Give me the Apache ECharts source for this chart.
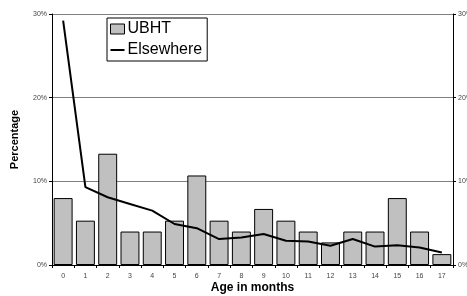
<!DOCTYPE html>
<html>
<head>
<meta charset="utf-8">
<script src="https://cdn.jsdelivr.net/npm/echarts@6/dist/echarts.min.js"></script>
<style>
  html, body { margin: 0; padding: 0; background: #fff; }
  #chart { width: 467px; height: 296px; }
</style>
</head>
<body>
<div id="chart"></div>
<script>
// Age in months (x categories)
const months = ['0', '1', '2', '3', '4', '5', '6', '7', '8', '9', '10', '11', '12', '13', '14', '15', '16', '17'];
// UBHT bars (%)
const ubht = [8.0, 5.3, 13.3, 4.0, 4.0, 5.3, 10.7, 5.3, 4.0, 6.7, 5.3, 4.0, 2.7, 4.0, 4.0, 8.0, 4.0, 1.3];
// Elsewhere line (%)
const elsewhere = [29.2, 9.3, 8.1, 7.3, 6.5, 4.9, 4.4, 3.1, 3.3, 3.7, 2.9, 2.8, 2.3, 3.1, 2.2, 2.35, 2.1, 1.5];

const font = 'Liberation Sans, Arial, sans-serif';

const chart = echarts.init(document.getElementById('chart'));

const yCommon = {
  type: 'value',
  min: 0,
  max: 30,
  interval: 10,
  axisLine: { show: true, lineStyle: { color: '#000', width: 1 } },
  axisTick: { show: true, length: 3, lineStyle: { color: '#000' } },
  axisLabel: { fontFamily: font, fontSize: 7, color: '#444', margin: 5, formatter: '{value}%' },
};

// short horizontal line as legend icon; corner dots keep the box 14x10
const lineIcon = 'path://M0,4 L14,4 L14,6 L0,6 Z M0,0 L0.01,0 L0,0.01 Z M14,10 L13.99,10 L14,9.99 Z';

chart.setOption({
  animation: false,
  grid: { left: 52, right: 14, top: 14, bottom: 31, containLabel: false, outerBoundsMode: 'none' },
  legend: {
    orient: 'vertical',
    left: 107,
    top: 18,
    padding: [3, 5, 3, 3],
    itemGap: 5,
    itemWidth: 14,
    itemHeight: 10,
    borderColor: '#000',
    borderWidth: 1,
    textStyle: { fontFamily: font, fontSize: 16, color: '#000', padding: [0, 0, 0, -2] },
    data: [
      { name: 'UBHT', icon: 'rect', itemStyle: { color: '#c0c0c0', borderColor: '#000', borderWidth: 1 } },
      { name: 'Elsewhere', icon: lineIcon, itemStyle: { color: '#000', borderWidth: 0 } },
    ],
  },
  xAxis: {
    type: 'category',
    data: months,
    name: 'Age in months',
    nameLocation: 'middle',
    nameGap: 17,
    nameMoveOverlap: false,
    nameTextStyle: { fontFamily: font, fontSize: 12, fontWeight: 'bold', color: '#000' },
    axisLine: { lineStyle: { color: '#000', width: 1 } },
    axisTick: { show: true, length: 3, alignWithLabel: false, lineStyle: { color: '#000' } },
    axisLabel: { fontFamily: font, fontSize: 7, color: '#444', margin: 8 },
  },
  yAxis: [
    Object.assign({}, yCommon, {
      position: 'left',
      name: 'Percentage',
      nameLocation: 'middle',
      nameGap: 32,
      nameMoveOverlap: false,
      nameTextStyle: { fontFamily: font, fontSize: 11, fontWeight: 'bold', color: '#000' },
      splitLine: { show: true, lineStyle: { color: '#7f7f7f', width: 1 } },
    }),
    Object.assign({}, yCommon, {
      position: 'right',
      splitLine: { show: false },
    }),
  ],
  series: [
    {
      name: 'UBHT',
      type: 'bar',
      data: ubht,
      barCategoryGap: '15%',
      itemStyle: { color: '#c0c0c0', borderColor: '#000', borderWidth: 1 },
    },
    {
      name: 'Elsewhere',
      type: 'line',
      data: elsewhere,
      showSymbol: false,
      symbol: 'none',
      lineStyle: { color: '#000', width: 2 },
      itemStyle: { color: '#000' },
    },
  ],
});
</script>
</body>
</html>
